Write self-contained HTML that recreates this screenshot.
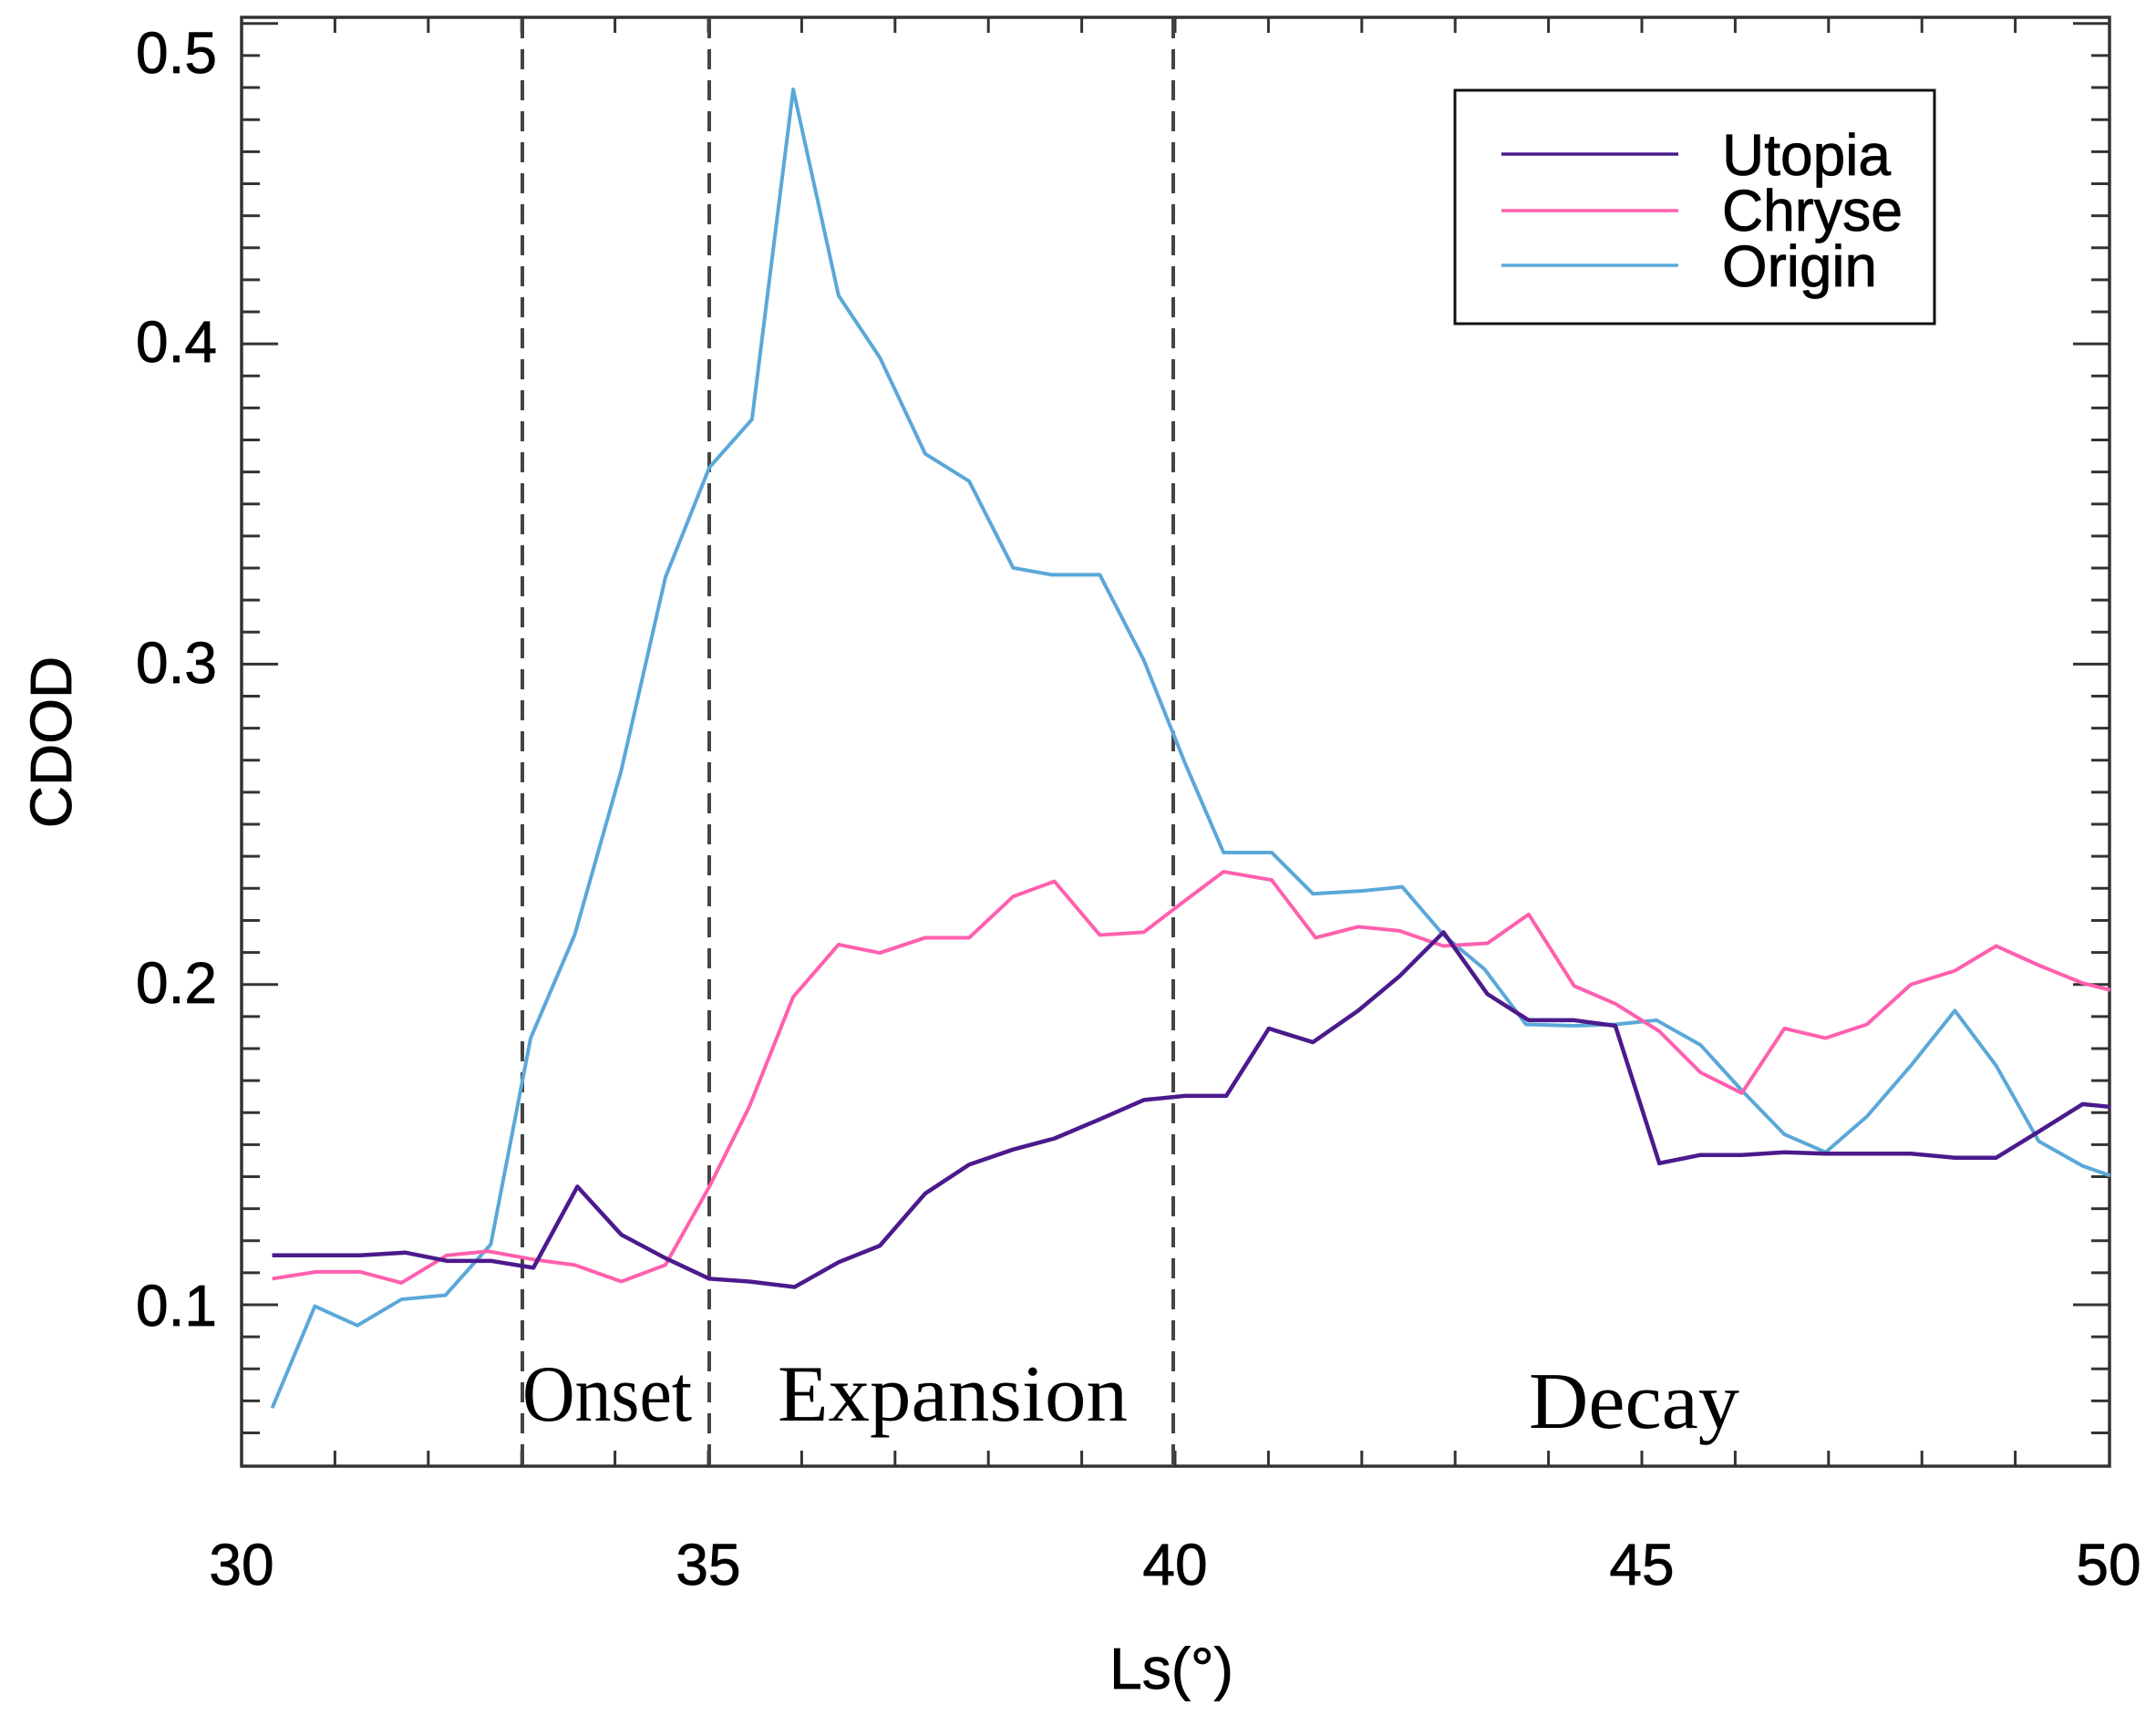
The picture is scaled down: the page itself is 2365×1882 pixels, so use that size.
<!DOCTYPE html>
<html><head><meta charset="utf-8"><style>
html,body{margin:0;padding:0;background:#fff;}
svg{display:block;}
</style></head><body>
<svg width="2365" height="1882" viewBox="0 0 2365 1882" xmlns="http://www.w3.org/2000/svg">
<rect width="2365" height="1882" fill="#fff"/>
<g id="ticks" stroke="#333" stroke-width="3"></g>
<rect x="265" y="19" width="2049" height="1589" fill="none" stroke="#333" stroke-width="3.5"/>
<g stroke="#444" stroke-width="4" stroke-dasharray="22,12">
<line x1="573" y1="20" x2="573" y2="1607"/>
<line x1="778" y1="20" x2="778" y2="1607"/>
<line x1="1287" y1="20" x2="1287" y2="1607"/>
</g>
<g transform="scale(1.508)" fill="none" stroke-linejoin="round">
<polyline vector-effect="non-scaling-stroke" stroke="#5aa8d8" stroke-width="4" points="198,1024 229,950 260,964 292,945 324,942 357,905 386,755 418,680 452,560 484,420 516,340 547,305 577,65 610,215 640,260 673,330 705,350 737,413 765,418 800,418 832,480 852,530 862,555 890,620 925,620 955,650 990,648 1020,645 1050,680 1080,705 1110,745 1145,746 1175,745 1205,742 1237,760 1267,793 1298,825 1328,838 1358,812 1390,775 1422,735 1452,775 1483,830 1515,848 1535,855"/>
<polyline vector-effect="non-scaling-stroke" stroke="#ff5fae" stroke-width="4" points="198,930 230,925 262,925 292,933 325,913 355,910 388,916 418,920 452,932 484,920 516,863 545,805 577,725 610,687 640,693 673,682 705,682 737,652 767,641 800,680 832,678 862,655 890,634 925,640 957,682 988,674 1018,677 1050,688 1082,686 1112,665 1145,717 1175,730 1207,750 1237,780 1267,795 1298,748 1328,755 1358,745 1390,716 1422,706 1452,688 1483,702 1515,715 1535,720"/>
<polyline vector-effect="non-scaling-stroke" stroke="#4b1a8c" stroke-width="4.5" points="198,913 230,913 262,913 295,911 325,917 357,917 388,922 420,863 452,898 484,915 516,930 545,932 578,936 610,918 640,906 673,868 705,847 737,836 767,828 800,814 832,800 862,797 892,797 923,748 955,758 988,735 1018,710 1050,678 1082,723 1112,742 1145,742 1175,746 1207,846 1237,840 1267,840 1298,838 1328,839 1358,839 1390,839 1422,842 1452,842 1483,823 1515,803 1535,805"/>
</g>
<rect x="1596" y="99" width="526" height="256" fill="#fff" stroke="#111" stroke-width="3"/>
<line x1="1647" y1="169" x2="1841" y2="169" stroke="#4b1a8c" stroke-width="3.5"/>
<line x1="1647" y1="231" x2="1841" y2="231" stroke="#ff5fae" stroke-width="3.5"/>
<line x1="1647" y1="291" x2="1841" y2="291" stroke="#5aa8d8" stroke-width="3.5"/>
<g font-family="Liberation Sans, sans-serif" font-size="64" fill="#000" stroke="#000" stroke-width="0.8">
<text x="1889" y="192" textLength="185" lengthAdjust="spacingAndGlyphs">Utopia</text>
<text x="1889" y="253" textLength="198" lengthAdjust="spacingAndGlyphs">Chryse</text>
<text x="1889" y="314" textLength="170" lengthAdjust="spacingAndGlyphs">Origin</text>
</g>
<g font-family="Liberation Serif, serif" font-size="88" fill="#000">
<text x="573" y="1558" textLength="186" lengthAdjust="spacingAndGlyphs">Onset</text>
<text x="853" y="1558" textLength="384" lengthAdjust="spacingAndGlyphs">Expansion</text>
<text x="1677" y="1566" textLength="231" lengthAdjust="spacingAndGlyphs">Decay</text>
</g>
<g font-family="Liberation Sans, sans-serif" font-size="64" fill="#000" stroke="#000" stroke-width="0.8" text-anchor="end">
<text x="238" y="80">0.5</text>
<text x="238" y="397">0.4</text>
<text x="238" y="749">0.3</text>
<text x="238" y="1100">0.2</text>
<text x="238" y="1454">0.1</text>
</g>
<g font-family="Liberation Sans, sans-serif" font-size="64" fill="#000" stroke="#000" stroke-width="0.8" text-anchor="middle">
<text x="265" y="1738">30</text>
<text x="777" y="1738">35</text>
<text x="1289" y="1738">40</text>
<text x="1801" y="1738">45</text>
<text x="2313" y="1738">50</text>
<text x="1285" y="1852">Ls(°)</text>
<text transform="translate(78,814) rotate(-90)">CDOD</text>
</g>
<script>
(function(){
var g=document.getElementById('ticks'),ns='http://www.w3.org/2000/svg';
function L(a,b,c,d){var l=document.createElementNS(ns,'line');l.setAttribute('x1',a);l.setAttribute('y1',b);l.setAttribute('x2',c);l.setAttribute('y2',d);g.appendChild(l);}
for(var i=1;i<20;i++){var x=265+i*102.4;L(x,1608,x,1591);L(x,19,x,36);}
for(var k=6;k<=50;k++){var v=k/100,y=1431-(v-0.1)*3513;if(y<20||y>1607)continue;var len=(k%10==0)?40:20;L(265,y,265+len,y);L(2314,y,2314-len,y);}
})();
</script>
</svg>
</body></html>
